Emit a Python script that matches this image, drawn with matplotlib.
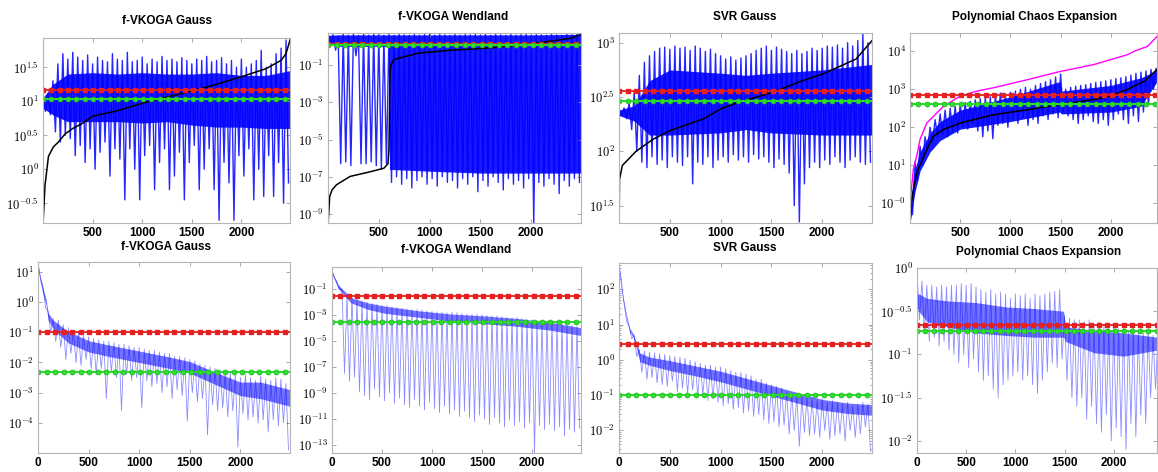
import numpy as np
import matplotlib.pyplot as plt
from matplotlib.ticker import FixedLocator, NullFormatter, NullLocator

plt.rcParams['mathtext.fontset'] = 'cm'
plt.rcParams['font.family'] = ['Liberation Sans', 'DejaVu Sans']

# iteration grid: spike tops at iters, spike bottoms at iters_mid
iters = list(range(0, 2500, 50))
iters_mid = list(range(25, 2500, 50))
marks = list(range(0, 2500, 84))

# ---------- top row (values are log10) ----------
# f-VKOGA Gauss
g_top_hi = [1.05, 1.1, 1.3, 1.55, 1.7, 1.62, 1.72, 1.65, 1.6, 1.68, 1.55, 1.65, 1.6, 1.58, 1.7, 1.62, 1.6,
            1.72, 1.58, 1.6, 1.65, 1.55, 1.62, 1.58, 1.66, 1.6, 1.62, 1.58, 1.64, 1.6, 1.55, 1.62, 1.6, 1.66,
            1.58, 1.6, 1.64, 1.55, 1.6, 1.5, 1.62, 1.5, 1.55, 1.6, 1.75, 1.5, 1.55, 1.7, 1.78, 1.9]
g_top_lo = [0.85, 0.8, 0.55, 0.4, 0.5, 0.45, 0.2, 0.35, 0.1, 0.3, 0.0, 0.25, 0.4, -0.1, 0.3, 0.15, -0.45,
            0.3, 0.0, -0.45, 0.2, 0.35, -0.3, 0.1, 0.3, -0.3, -0.1, 0.25, -0.45, 0.1, 0.35, -0.3, 0.0, 0.3,
            -0.3, -0.75, 0.1, -0.2, -0.75, 0.2, -0.1, 0.3, -0.45, 0.0, -0.4, 0.2, -0.4, 0.1, -0.5, -0.2]
g_top_core_x = [0, 100, 250, 500, 750, 1000, 1250, 1500, 1750, 2000, 2250, 2490]
g_top_core_hi = [1.05, 1.25, 1.4, 1.42, 1.4, 1.42, 1.4, 1.4, 1.42, 1.38, 1.38, 1.45]
g_top_core_lo = [0.9, 0.8, 0.7, 0.7, 0.7, 0.68, 0.7, 0.65, 0.62, 0.62, 0.6, 0.6]
g_top_black_x = [1, 20, 55, 105, 155, 223, 300, 392, 500, 750, 1000, 1250, 1500, 1750, 2000, 2250, 2400, 2450, 2490]
g_top_black = [-0.79, -0.24, 0.19, 0.33, 0.40, 0.52, 0.6, 0.67, 0.78, 0.86, 0.97, 1.06, 1.15, 1.25, 1.36, 1.48,
               1.6, 1.7, 1.9]

# f-VKOGA Wendland
w_top_hi = [0.6, 0.62, 0.55, 0.68, 0.6, 0.65, 0.58, 0.66, 0.6, 0.68, 0.62, 0.6, 0.67, 0.6, 0.65, 0.62, 0.6,
            0.68, 0.6, 0.64, 0.66, 0.6, 0.68, 0.62, 0.6, 0.66, 0.6, 0.64, 0.62, 0.68, 0.6, 0.65, 0.6, 0.67,
            0.62, 0.6, 0.66, 0.6, 0.64, 0.68, 0.6, 0.65, 0.62, 0.6, 0.68, 0.62, 0.6, 0.66, 0.62, 0.7]
w_top_lo = [0.1, -0.2, -6.3, -6.2, -6.4, -0.5, -6.3, -6.3, -6.2, -6.4, -6.6, -6.3, -7.3, -7.0, -7.4, -7.1,
            -7.6, -7.2, -7.0, -7.4, -7.1, -7.5, -7.0, -7.3, -7.2, -7.6, -7.1, -7.4, -7.0, -7.8, -7.2, -7.5,
            -7.0, -7.3, -7.7, -7.1, -7.4, -7.2, -7.6, -7.1, -9.5, -7.3, -7.5, -7.1, -7.4, -7.9, -7.2, -7.5,
            -7.1, -7.3]
w_top_core_x = [0, 100, 595, 605, 1000, 1500, 2000, 2490]
w_top_core_hi = [0.6, 0.62, 0.62, 0.62, 0.62, 0.62, 0.62, 0.65]
w_top_core_lo = [0.15, 0.0, 0.0, -6.6, -6.7, -6.8, -6.8, -6.8]
w_top_black_x = [1, 17, 40, 83, 217, 400, 550, 590, 600, 610, 620, 650, 883, 1217, 1550, 1883, 2217, 2400, 2490]
w_top_black = [-9.5, -8.05, -7.7, -7.43, -6.98, -6.75, -6.54, -6.3, -5.5, -1.5, -1.0, -0.7, -0.37, -0.2,
               -0.1, 0.07, 0.3, 0.45, 0.65]

# SVR Gauss
s_top_hi = [2.38, 2.4, 2.45, 2.55, 2.7, 2.82, 2.88, 2.92, 2.95, 2.96, 2.94, 2.97, 2.95, 2.96, 2.93, 2.97,
            2.95, 2.92, 2.94, 2.9, 2.88, 2.85, 2.87, 2.84, 2.86, 2.88, 2.9, 2.93, 2.95, 2.97, 2.93, 2.96,
            2.94, 2.92, 2.9, 2.93, 2.9, 2.92, 2.95, 2.93, 2.95, 2.97, 2.96, 2.98, 2.95, 3.0, 2.97, 3.02,
            3.08, 3.0]
s_top_lo = [2.33, 2.3, 2.2, 2.0, 1.9, 1.85, 1.95, 1.88, 1.92, 1.85, 1.95, 1.9, 1.87, 1.95, 1.7, 1.9, 1.88,
            1.95, 1.85, 1.92, 1.95, 1.9, 1.97, 1.92, 1.95, 1.9, 1.97, 1.93, 1.95, 1.9, 1.85, 1.93, 1.88,
            1.8, 1.5, 1.35, 1.7, 1.85, 1.9, 1.85, 1.92, 1.88, 1.95, 1.9, 1.85, 1.92, 1.95, 1.9, 1.88, 1.9]
s_top_core_x = [0, 150, 300, 500, 1000, 1250, 1500, 2000, 2490]
s_top_core_hi = [2.38, 2.42, 2.65, 2.75, 2.72, 2.7, 2.72, 2.75, 2.8]
s_top_core_lo = [2.33, 2.28, 2.15, 2.15, 2.17, 2.2, 2.17, 2.15, 2.15]
s_top_black_x = [1, 5, 33, 167, 333, 500, 833, 1000, 1167, 1500, 1833, 2000, 2333, 2490]
s_top_black = [1.34, 1.74, 1.87, 2.0, 2.11, 2.19, 2.3, 2.39, 2.45, 2.54, 2.66, 2.71, 2.85, 3.02]

# Polynomial Chaos Expansion
p_top_hi = [0.2, 1.1, 1.5, 1.75, 2.0, 2.2, 2.35, 2.45, 2.5, 2.55, 2.6, 2.65, 2.68, 2.72, 2.75, 2.8, 2.8,
            2.85, 2.9, 2.86, 2.92, 2.95, 3.0, 3.05, 3.0, 3.1, 3.15, 3.2, 3.25, 3.32, 3.4, 3.0, 3.05, 3.08,
            3.1, 3.12, 3.15, 3.18, 3.2, 3.22, 3.25, 3.28, 3.3, 3.33, 3.37, 3.42, 3.45, 3.48, 3.52, 3.55]
p_top_lo = [-0.3, 0.6, 1.0, 1.4, 1.6, 1.75, 1.8, 1.75, 1.9, 1.85, 2.0, 1.95, 2.1, 1.9, 1.75, 1.9, 1.7, 2.05,
            2.1, 2.0, 2.2, 2.1, 2.25, 2.05, 2.2, 2.1, 2.3, 2.2, 2.35, 2.25, 2.4, 2.3, 2.2, 2.1, 2.2, 2.3,
            2.15, 2.1, 2.2, 2.05, 2.2, 2.35, 2.2, 2.1, 2.3, 2.15, 2.4, 2.6, 3.0, 3.4]
p_top_core_x = [0, 50, 100, 200, 300, 500, 1000, 1490, 1510, 2000, 2300, 2460]
p_top_core_hi = [0.0, 0.9, 1.35, 1.85, 2.15, 2.45, 2.8, 3.2, 2.95, 3.1, 3.3, 3.5]
p_top_core_lo = [-0.5, 0.3, 0.85, 1.35, 1.65, 1.95, 2.15, 2.4, 2.35, 2.4, 2.55, 3.2]
p_top_black_x = [1, 17, 67, 167, 233, 333, 500, 833, 1167, 1500, 1833, 2000, 2167, 2333, 2460]
p_top_black = [-0.52, 0.1, 0.8, 1.41, 1.76, 1.94, 2.11, 2.33, 2.46, 2.6, 2.73, 2.82, 3.0, 3.21, 3.52]
p_top_magenta_x = [1, 10, 33, 67, 100, 167, 333, 500, 667, 833, 1167, 1500, 1833, 2000, 2167, 2233, 2367, 2460]
p_top_magenta = [-0.5, 0.27, 0.89, 1.24, 1.68, 2.11, 2.55, 2.82, 2.95, 3.04, 3.25, 3.47, 3.65, 3.78, 3.91,
                 4.0, 4.13, 4.39]

# ---------- bottom row (values are log10) ----------
g_bot_hi = [1.3, 0.5, -0.3, -0.55, -0.6, -0.75, -0.85, -0.95, -1.0, -1.1, -1.15, -1.2, -1.25, -1.3, -1.3,
            -1.35, -1.4, -1.4, -1.45, -1.5, -1.5, -1.55, -1.6, -1.6, -1.65, -1.7, -1.7, -1.8, -1.8, -1.85,
            -1.9, -1.95, -2.05, -2.1, -2.15, -2.2, -2.25, -2.35, -2.3, -2.4, -2.5, -2.4, -2.5, -2.6, -2.45,
            -2.55, -2.6, -2.5, -2.55, -2.7]
g_bot_lo = [0.8, -0.2, -1.0, -1.3, -1.5, -1.9, -1.7, -2.0, -2.1, -1.9, -2.2, -2.4, -2.2, -3.2, -2.3, -2.5,
            -3.6, -2.4, -2.6, -2.5, -3.5, -2.6, -2.8, -2.7, -3.0, -2.8, -3.2, -2.9, -3.1, -3.95, -3.0, -3.3,
            -3.2, -4.4, -3.4, -3.6, -3.5, -3.8, -3.6, -4.8, -3.7, -3.9, -3.8, -4.0, -3.9, -4.3, -3.9, -4.1,
            -4.0, -4.9]
g_bot_core_x = [0, 20, 50, 80, 100, 150, 200, 300, 400, 500, 700, 1000, 1300, 1500, 1700, 2000, 2200, 2490]
g_bot_core_hi = [1.25, 0.85, 0.45, 0.1, -0.35, -0.6, -0.72, -0.98, -1.12, -1.28, -1.42, -1.62, -1.82, -1.97,
                 -2.25, -2.65, -2.65, -2.9]
g_bot_core_lo = [1.15, 0.7, 0.25, -0.1, -0.6, -0.88, -1.05, -1.35, -1.5, -1.65, -1.8, -2.0, -2.2, -2.35,
                 -2.65, -3.1, -3.2, -3.45]

w_bot_hi = [0.4, -0.5, -1.1, -1.5, -1.7, -1.85, -2.0, -2.05, -2.15, -2.2, -2.3, -2.3, -2.4, -2.45, -2.5,
            -2.55, -2.6, -2.6, -2.65, -2.7, -2.75, -2.8, -2.8, -2.85, -2.8, -2.85, -2.9, -2.95, -3.0, -2.95,
            -3.0, -3.05, -3.1, -3.1, -3.15, -3.2, -3.25, -3.2, -3.3, -3.35, -3.4, -3.45, -3.5, -3.5, -3.55,
            -3.6, -3.7, -3.75, -3.8, -3.9]
w_bot_lo = [-0.2, -1.0, -7.5, -8.1, -7.8, -8.9, -9.2, -9.5, -8.7, -9.3, -9.6, -9.0, -9.8, -9.4, -9.9, -10.1,
            -9.5, -10.0, -10.3, -9.7, -10.2, -10.5, -10.0, -10.6, -10.3, -10.8, -10.4, -10.9, -11.2, -10.7,
            -11.0, -11.4, -10.9, -11.3, -11.6, -11.1, -11.5, -11.2, -11.7, -11.3, -13.6, -11.5, -11.8, -11.4,
            -11.9, -11.6, -12.3, -11.8, -12.0, -11.7]
w_bot_core_x = [0, 60, 190, 360, 530, 860, 1190, 1530, 1860, 2190, 2490]
w_bot_core_hi = [0.3, -0.7, -1.7, -2.1, -2.35, -2.7, -2.95, -3.1, -3.3, -3.6, -4.0]
w_bot_core_lo = [0.15, -1.0, -2.1, -2.6, -2.9, -3.2, -3.5, -3.7, -3.9, -4.2, -4.6]

s_bot_hi = [2.75, 1.6, 0.95, 0.7, 0.3, 0.25, 0.22, 0.2, 0.18, 0.15, 0.12, 0.1, 0.08, 0.05, 0.0, -0.05,
            -0.1, -0.15, -0.15, -0.2, -0.2, -0.25, -0.3, -0.35, -0.35, -0.4, -0.45, -0.55, -0.55, -0.65,
            -0.7, -0.75, -0.8, -0.9, -0.95, -1.0, -1.05, -1.05, -1.1, -1.15, -1.1, -1.2, -1.15, -1.2, -1.25,
            -1.2, -1.3, -1.25, -1.2, -1.25]
s_bot_lo = [2.1, 1.1, 0.6, 0.1, -0.35, -0.55, -0.5, -0.65, -0.7, -0.75, -0.6, -0.9, -0.8, -0.95, -0.85,
            -1.05, -1.0, -1.15, -1.1, -1.2, -1.3, -1.25, -1.4, -1.35, -1.5, -1.45, -1.6, -1.55, -1.7, -1.8,
            -1.75, -1.9, -1.85, -2.1, -2.0, -2.45, -2.05, -2.15, -2.1, -2.2, -2.0, -2.25, -2.15, -2.1, -2.3,
            -2.0, -2.2, -2.1, -1.9, -2.6]
s_bot_core_x = [0, 23, 39, 72, 105, 138, 171, 204, 300, 500, 750, 1000, 1250, 1500, 1750, 2000, 2250, 2490]
s_bot_core_hi = [2.7, 2.25, 1.8, 1.3, 0.9, 0.75, 0.5, 0.2, 0.08, -0.02, -0.17, -0.32, -0.52, -0.72, -0.92,
                 -1.12, -1.22, -1.27]
s_bot_core_lo = [2.6, 2.15, 1.7, 1.2, 0.8, 0.65, 0.35, -0.05, -0.15, -0.3, -0.45, -0.62, -0.82, -1.02, -1.22,
                 -1.42, -1.52, -1.57]

p_bot_hi = [-0.05, -0.15, -0.2, -0.2, -0.22, -0.2, -0.22, -0.2, -0.2, -0.18, -0.2, -0.18, -0.22, -0.25,
            -0.28, -0.25, -0.3, -0.28, -0.3, -0.35, -0.3, -0.32, -0.3, -0.35, -0.3, -0.32, -0.3, -0.28,
            -0.27, -0.25, -0.55, -0.58, -0.6, -0.6, -0.62, -0.6, -0.65, -0.62, -0.65, -0.68, -0.65, -0.7,
            -0.68, -0.72, -0.7, -0.72, -0.75, -0.72, -0.78, -0.8]
p_bot_lo = [-0.6, -0.75, -0.85, -0.8, -0.9, -0.85, -0.95, -1.0, -1.1, -1.0, -1.15, -1.05, -1.2, -1.3,
            -1.25, -1.4, -1.5, -1.35, -1.3, -1.25, -1.2, -1.3, -1.25, -1.35, -1.45, -1.3, -1.2, -1.1, -1.15,
            -1.05, -1.3, -1.5, -1.6, -1.5, -1.75, -1.6, -1.8, -1.9, -1.7, -2.0, -1.85, -1.95, -2.1, -1.8,
            -1.95, -1.7, -1.8, -1.5, -1.4, -1.3]
p_bot_core_x = [0, 20, 100, 300, 600, 900, 1200, 1490, 1510, 1800, 2100, 2440]
p_bot_core_hi = [-0.3, -0.3, -0.35, -0.38, -0.4, -0.45, -0.47, -0.5, -0.68, -0.72, -0.75, -0.8]
p_bot_core_lo = [-0.45, -0.5, -0.62, -0.68, -0.75, -0.78, -0.8, -0.8, -0.85, -0.98, -1.02, -0.95]

# red / green reference levels (log10)
red_levels = [1.16, 0.13, 2.56, 2.84, -1.0, -1.59, 0.46, -0.656]
green_levels = [1.04, 0.07, 2.46, 2.62, -2.33, -3.54, -1.0, -0.73]

titles = ['f-VKOGA Gauss', 'f-VKOGA Wendland', 'SVR Gauss', 'Polynomial Chaos Expansion'] * 2

ytick_sets = [
    [-0.5, 0, 0.5, 1, 1.5], [-9, -7, -5, -3, -1], [1.5, 2, 2.5, 3], [0, 1, 2, 3, 4],
    [-4, -3, -2, -1, 0, 1], [-13, -11, -9, -7, -5, -3, -1], [-2, -1, 0, 1, 2], [-2, -1.5, -1, -0.5, 0],
]
ylims = [(-0.79, 1.93), (-9.48, 0.72), (1.34, 3.09), (-0.52, 4.48),
         (-5.0, 1.33), (-13.6, 0.65), (-2.64, 2.75), (-2.14, 0.0)]
xlims = [(0, 2490), (0, 2490), (0, 2490), (0, 2460), (0, 2490), (0, 2490), (0, 2490), (0, 2440)]

spikes = [(g_top_hi, g_top_lo), (w_top_hi, w_top_lo), (s_top_hi, s_top_lo), (p_top_hi, p_top_lo),
          (g_bot_hi, g_bot_lo), (w_bot_hi, w_bot_lo), (s_bot_hi, s_bot_lo), (p_bot_hi, p_bot_lo)]
cores = [(g_top_core_x, g_top_core_hi, g_top_core_lo), (w_top_core_x, w_top_core_hi, w_top_core_lo),
         (s_top_core_x, s_top_core_hi, s_top_core_lo), (p_top_core_x, p_top_core_hi, p_top_core_lo),
         (g_bot_core_x, g_bot_core_hi, g_bot_core_lo), (w_bot_core_x, w_bot_core_hi, w_bot_core_lo),
         (s_bot_core_x, s_bot_core_hi, s_bot_core_lo), (p_bot_core_x, p_bot_core_hi, p_bot_core_lo)]
blacks = [(g_top_black_x, g_top_black), (w_top_black_x, w_top_black),
          (s_top_black_x, s_top_black), (p_top_black_x, p_top_black)]

# layout in pixels: left, top, right, bottom ; title centre x, y
W, H = 1158, 472
boxes = [(43, 38, 290, 223), (328, 33, 581, 223), (619, 33, 872, 223), (910, 33, 1157, 223),
         (38, 262, 290, 453), (332, 267, 581, 453), (619, 263, 872, 453), (917, 268, 1157, 453)]
title_xy = [(167, 21), (453, 17), (745, 17), (1035, 17), (166, 247), (456, 250), (745, 248), (1039, 252)]

fig = plt.figure(figsize=(W / 100, H / 100), dpi=100)
for i in range(8):
    l, t, r, b = boxes[i]
    ax = fig.add_axes([l / W, 1 - b / H, (r - l) / W, (b - t) / H])
    top = i < 4
    hi, lo = spikes[i]
    xs, ys = [], []
    for a, c, h, m in zip(iters, iters_mid, hi, lo):
        xs += [a, c]
        ys += [h, m]
    cx, chi, clo = cores[i]
    if top:
        ax.fill_between(cx, 10.0 ** np.array(clo), 10.0 ** np.array(chi), color='#0000ff', alpha=0.9, lw=0)
        ax.plot(xs, 10.0 ** np.array(ys), color='#0000ff', lw=1.0, alpha=0.85)
    else:
        ax.plot(xs, 10.0 ** np.array(ys), color='#0000ff', lw=0.6, alpha=0.45)
        ax.fill_between(cx, 10.0 ** np.array(clo), 10.0 ** np.array(chi), color='#0000ff', alpha=0.55, lw=0)
    if top:
        bx, by = blacks[i]
        ax.plot(bx, 10.0 ** np.array(by), color='black', lw=1.1)
    if i == 3:
        ax.plot(p_top_magenta_x, 10.0 ** np.array(p_top_magenta), color='#ff00ff', lw=1.0)
    ax.axhline(10.0 ** red_levels[i], color='#e52020', lw=1.3)
    ax.plot(marks, [10.0 ** red_levels[i]] * len(marks), ls='none', marker='s', ms=2.4, color='#e52020')
    ax.axhline(10.0 ** green_levels[i], color='#2ee02e', lw=1.5)
    ax.plot(marks, [10.0 ** green_levels[i]] * len(marks), ls='none', marker='o', ms=3.6,
            color='#2ee02e', mec='#22b022', mew=0.5)

    ax.set_yscale('log')
    ax.set_xlim(*xlims[i])
    ax.set_ylim(10.0 ** ylims[i][0], 10.0 ** ylims[i][1])
    yt = ytick_sets[i]
    ax.yaxis.set_major_locator(FixedLocator([10.0 ** v for v in yt]))
    labels = [r'$10^{%s}$' % ('%g' % v) for v in yt]
    if i == 3:
        labels[0] = r'$10^{-0}$'
    ax.set_yticklabels(labels, fontsize=9)
    ax.yaxis.set_minor_formatter(NullFormatter())
    if i in (0, 2, 3, 7):
        ax.yaxis.set_minor_locator(NullLocator())
    ax.set_xticks([500, 1000, 1500, 2000] if top else [0, 500, 1000, 1500, 2000])
    for tl in ax.get_xticklabels():
        tl.set_fontweight('bold')
        tl.set_fontsize(8.5)
    ax.tick_params(which='both', direction='in', top=True, right=True, color='#999999', width=0.6)
    ax.tick_params(which='major', length=3)
    ax.tick_params(which='minor', length=1.5)
    ax.tick_params(axis='both', pad=3)
    for sp in ax.spines.values():
        sp.set_color('#b5b5b5')
        sp.set_linewidth(0.8)
    fig.text(title_xy[i][0] / W, 1 - title_xy[i][1] / H, titles[i], ha='center', va='center',
             fontsize=8.5, fontweight='bold')

fig.savefig('out.png', dpi=100)
